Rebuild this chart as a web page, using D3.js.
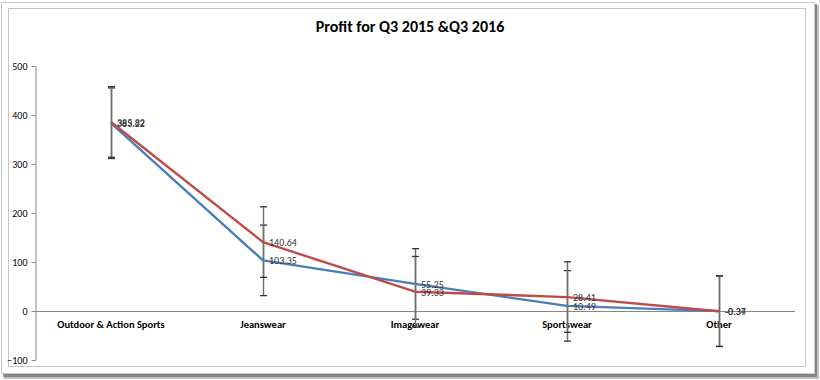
<!DOCTYPE html>
<html><head><meta charset="utf-8">
<script src="https://cdn.jsdelivr.net/npm/d3@7"></script>
<style>
html,body{margin:0;padding:0;background:#fff;}
svg{display:block;font-family:Calibri,Carlito,"Liberation Sans",Arial,sans-serif;}
</style></head>
<body>
<script>
const categories = ["Outdoor & Action Sports","Jeanswear","Imagewear","Sportswear","Other"];
const q3_2015 = [383.22, 103.35, 55.25, 10.49, -0.34];
const q3_2016 = [385.82, 140.64, 39.33, 28.41, -0.37];
const errorAmount = 72;
const yTicks = [-100, 0, 100, 200, 300, 400, 500];
const title = "Profit for Q3 2015 &Q3 2016";

const W = 820, H = 380;
const svg = d3.select("body").append("svg").attr("width", W).attr("height", H);

// outer frame with shadow
svg.append("rect").attr("x", 4).attr("y", 5).attr("width", 815).attr("height", 374).attr("fill", "#555").attr("opacity", 0.35);
svg.append("rect").attr("x", 3).attr("y", 4).attr("width", 814).attr("height", 373).attr("fill", "#444").attr("opacity", 0.5);
svg.append("rect").attr("x", 1.5).attr("y", 2.5).attr("width", 813).attr("height", 371).attr("fill", "#fff").attr("stroke", "#c8c8c8");
// inner chart border
svg.append("rect").attr("x", 8.5).attr("y", 8.5).attr("width", 797).attr("height", 358).attr("fill", "#fff").attr("stroke", "#c6c6c6");

svg.append("text").attr("x", 410).attr("y", 32).attr("text-anchor", "middle")
  .attr("font-size", 16).attr("font-weight", "bold").attr("fill", "#000").text(title);

const x = d3.scaleBand().domain(categories).range([35, 795]);
const y = d3.scaleLinear().domain([-100, 500]).range([360, 66]);
const cx = c => x(c) + x.bandwidth() / 2;

// y axis
const yAxis = d3.axisLeft(y).tickValues(yTicks).tickSize(4).tickSizeOuter(0);
const ga = svg.append("g").attr("transform", "translate(35.5,0)").call(yAxis);
ga.select(".domain").attr("stroke", "#868686");
ga.selectAll(".tick line").attr("stroke", "#868686");
ga.selectAll(".tick text").attr("font-size", 10).attr("fill", "#000").attr("x", -8)
  .attr("font-family", "Calibri,Carlito,'Liberation Sans',Arial,sans-serif");

// zero line (category axis)
svg.append("line").attr("x1", 35).attr("x2", 795).attr("y1", Math.round(y(0)) + 0.5).attr("y2", Math.round(y(0)) + 0.5)
  .attr("stroke", "#868686");

// category labels
svg.append("g").selectAll("text").data(categories).join("text")
  .attr("x", d => cx(d)).attr("y", y(0) + 17).attr("text-anchor", "middle")
  .attr("font-size", 10.5).attr("font-weight", "bold").attr("fill", "#000").text(d => d);

const series = [
  {name: "Q3 2015", values: q3_2015, color: "#4A7EBB"},
  {name: "Q3 2016", values: q3_2016, color: "#BE4B48"}
];

const line = d3.line().x((d, i) => cx(categories[i])).y(d => y(d));

// error bars
series.forEach(s => {
  const g = svg.append("g");
  s.values.forEach((v, i) => {
    const px = Math.round(cx(categories[i])) + 0.5;
    g.append("line").attr("x1", px).attr("x2", px).attr("y1", y(v + errorAmount)).attr("y2", y(v - errorAmount))
      .attr("stroke", "#707070").attr("stroke-width", 1.5);
    [v + errorAmount, v - errorAmount].forEach(e => {
      g.append("line").attr("x1", px - 3.5).attr("x2", px + 3.5).attr("y1", y(e)).attr("y2", y(e))
        .attr("stroke", "#333").attr("stroke-width", 1.3);
    });
  });
});

series.forEach(s => {
  svg.append("path").datum(s.values).attr("d", line).attr("fill", "none")
    .attr("stroke", s.color).attr("stroke-width", 2.4).attr("stroke-linejoin", "round");
});

series.forEach(s => {
  svg.append("g").selectAll("text").data(s.values).join("text")
    .attr("x", (d, i) => cx(categories[i]) + 6).attr("y", d => y(d) + 4)
    .attr("font-size", 10).attr("fill", "#333").text(d => d.toFixed(2).replace(/\.?0+$/, m => m.startsWith('.') ? '' : m) === "" ? d : d);
});
</script>
</body></html>
